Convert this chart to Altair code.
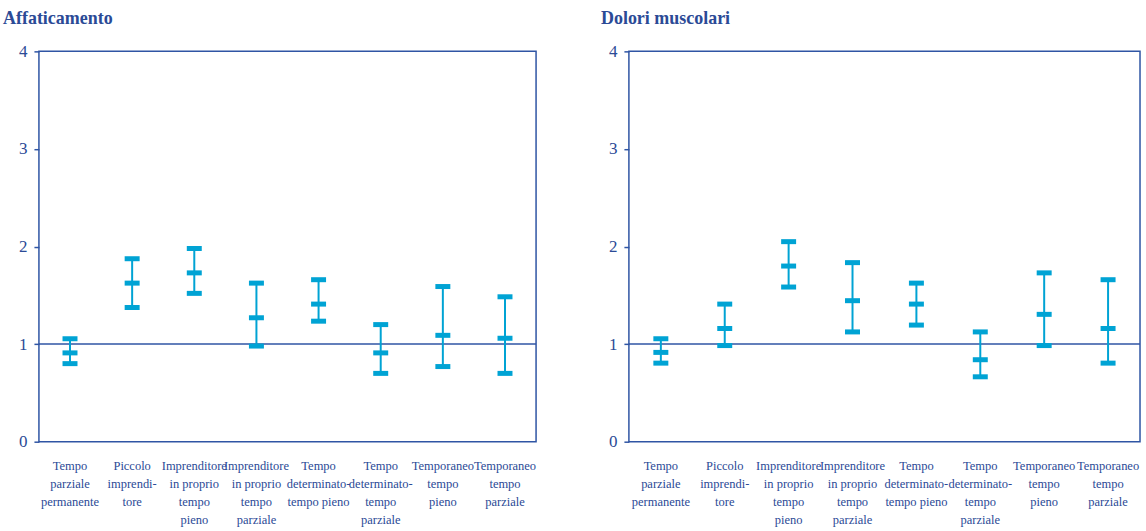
import altair as alt
import pandas as pd

# Category labels ("|" marks a line break in the axis label)
categories = [
    "Tempo|parziale|permanente",
    "Piccolo|imprendi-|tore",
    "Imprenditore|in proprio|tempo|pieno",
    "Imprenditore|in proprio|tempo|parziale",
    "Tempo|determinato-|tempo pieno",
    "Tempo|determinato-|tempo|parziale",
    "Temporaneo|tempo|pieno",
    "Temporaneo|tempo|parziale",
]

# Affaticamento: lower bound, estimate, upper bound
fatigue_low = [0.80, 1.375, 1.52, 0.98, 1.235, 0.70, 0.77, 0.70]
fatigue_mid = [0.91, 1.625, 1.73, 1.27, 1.41, 0.91, 1.09, 1.06]
fatigue_high = [1.055, 1.875, 1.98, 1.625, 1.66, 1.20, 1.59, 1.485]

# Dolori muscolari: lower bound, estimate, upper bound
pain_low = [0.805, 0.985, 1.585, 1.125, 1.195, 0.665, 0.985, 0.805]
pain_mid = [0.915, 1.16, 1.80, 1.445, 1.41, 0.84, 1.305, 1.16]
pain_high = [1.055, 1.41, 2.05, 1.835, 1.625, 1.125, 1.73, 1.66]

y_ticks = [0, 1, 2, 3, 4]

FONT = "Liberation Serif"
TEXT = "#2b4a96"
FRAME = "#2f55a4"
BAR = "#00a3d4"


def y_enc(field):
    return alt.Y(
        field,
        scale=alt.Scale(domain=[0, 4], nice=False, zero=True),
        title=None,
        axis=alt.Axis(
            values=y_ticks,
            grid=False,
            domain=False,
            tickSize=5,
            tickColor=FRAME,
            tickWidth=1.5,
            labelFontSize=17,
            labelPadding=7,
            minExtent=30,
            maxExtent=30,
        ),
    )


def x_enc():
    return alt.X(
        "cat:N",
        sort=categories,
        scale=alt.Scale(paddingInner=0, paddingOuter=0),
        title=None,
        axis=alt.Axis(
            labelExpr="split(datum.label, '|')",
            labelAngle=0,
            ticks=False,
            domain=False,
            labelPadding=18,
            labelFontSize=12.5,
            labelLineHeight=18,
            labelBaseline="top",
            labelLimit=0,
            labelOverlap=False,
            labelBound=False,
        ),
    )


def panel(title, low, mid, high, width, height, dx):
    df = pd.DataFrame({"cat": categories, "low": low, "mid": mid, "high": high})
    base = alt.Chart(df)

    ref = (
        alt.Chart(pd.DataFrame({"ref": [1]}))
        .mark_rule(color=FRAME, strokeWidth=1.5)
        .encode(y=y_enc("ref:Q"))
    )
    stem = base.mark_rule(color=BAR, strokeWidth=2).encode(
        x=x_enc(), y=y_enc("low:Q"), y2="high:Q"
    )
    caps = (
        base.transform_fold(["low", "mid", "high"], as_=["kind", "val"])
        .mark_tick(color=BAR, thickness=5, size=15, opacity=1)
        .encode(x=x_enc(), y=y_enc("val:Q"))
    )
    return alt.layer(ref, stem, caps).properties(
        width=width,
        height=height,
        title=alt.TitleParams(
            title,
            anchor="start",
            frame="group",
            dx=dx,
            fontSize=18,
            font=FONT,
            fontWeight="bold",
            color=TEXT,
            offset=14,
        ),
    )


left = panel("Affaticamento", fatigue_low, fatigue_mid, fatigue_high, 498, 391, -36)
right = panel("Dolori muscolari", pain_low, pain_mid, pain_high, 512, 391, -28)

chart = (
    alt.hconcat(left, right, spacing=93, bounds="flush")
    .properties(padding={"left": 2, "top": 9, "right": 4, "bottom": 0}, background="white")
    .configure_view(stroke=FRAME, strokeWidth=1.5)
    .configure_axis(labelFont=FONT, labelColor=TEXT)
)

chart.save("out.html", embed_options={"renderer": "svg", "actions": False})
